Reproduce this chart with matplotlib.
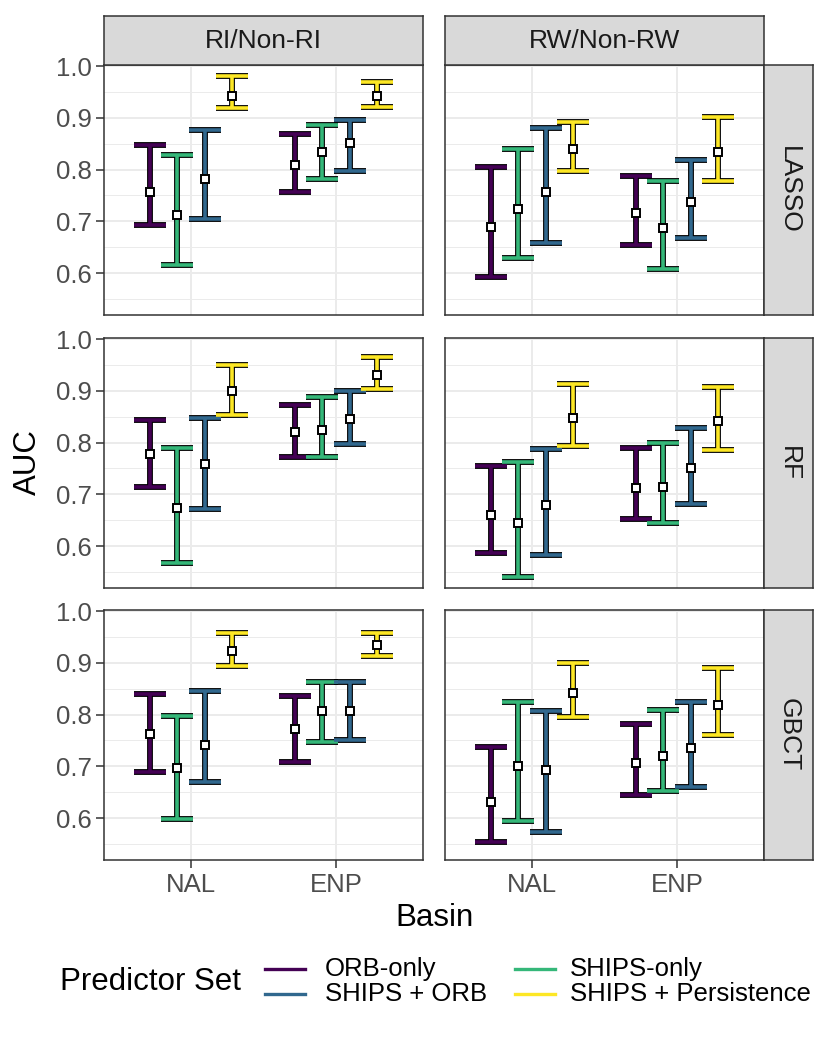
import numpy as np
import matplotlib
matplotlib.use('Agg')
import matplotlib.pyplot as plt
from matplotlib.lines import Line2D

plt.rcParams['font.family'] = ['Liberation Sans', 'DejaVu Sans']

basins = ['NAL', 'ENP']
predictors = ['ORB-only', 'SHIPS-only', 'SHIPS + ORB', 'SHIPS + Persistence']
pred_colors = ['#440154', '#35B779', '#31688E', '#FDE725']
legend_order = ['ORB-only', 'SHIPS + ORB', 'SHIPS-only', 'SHIPS + Persistence']
outcomes = ['RI/Non-RI', 'RW/Non-RW']
models = ['LASSO', 'RF', 'GBCT']

# each list: NAL (ORB, SHIPS, SHIPS+ORB, SHIPS+Pers), then ENP (same order)
lasso_ri_lo = [0.692, 0.615, 0.705, 0.918, 0.756, 0.781, 0.798, 0.920]
lasso_ri_mid = [0.756, 0.713, 0.782, 0.942, 0.808, 0.833, 0.851, 0.942]
lasso_ri_hi = [0.847, 0.828, 0.877, 0.980, 0.868, 0.887, 0.895, 0.969]

lasso_rw_lo = [0.592, 0.630, 0.658, 0.797, 0.655, 0.608, 0.667, 0.777]
lasso_rw_mid = [0.689, 0.724, 0.756, 0.839, 0.716, 0.687, 0.737, 0.834]
lasso_rw_hi = [0.805, 0.840, 0.880, 0.891, 0.788, 0.777, 0.818, 0.901]

rf_ri_lo = [0.715, 0.567, 0.672, 0.853, 0.772, 0.772, 0.797, 0.904]
rf_ri_mid = [0.778, 0.673, 0.759, 0.900, 0.820, 0.825, 0.846, 0.930]
rf_ri_hi = [0.844, 0.790, 0.847, 0.950, 0.873, 0.888, 0.899, 0.966]

rf_rw_lo = [0.586, 0.541, 0.583, 0.794, 0.652, 0.645, 0.682, 0.786]
rf_rw_mid = [0.660, 0.645, 0.680, 0.848, 0.712, 0.714, 0.750, 0.842]
rf_rw_hi = [0.754, 0.762, 0.787, 0.913, 0.790, 0.800, 0.829, 0.908]

gbct_ri_lo = [0.689, 0.598, 0.670, 0.894, 0.709, 0.747, 0.750, 0.913]
gbct_ri_mid = [0.762, 0.696, 0.742, 0.923, 0.772, 0.806, 0.806, 0.935]
gbct_ri_hi = [0.840, 0.797, 0.845, 0.957, 0.835, 0.862, 0.862, 0.958]

gbct_rw_lo = [0.553, 0.594, 0.574, 0.795, 0.644, 0.653, 0.660, 0.760]
gbct_rw_mid = [0.632, 0.701, 0.693, 0.842, 0.706, 0.719, 0.735, 0.819]
gbct_rw_hi = [0.737, 0.824, 0.806, 0.900, 0.782, 0.809, 0.824, 0.890]

panels = {
    ('LASSO', 'RI/Non-RI'): (lasso_ri_lo, lasso_ri_mid, lasso_ri_hi),
    ('LASSO', 'RW/Non-RW'): (lasso_rw_lo, lasso_rw_mid, lasso_rw_hi),
    ('RF', 'RI/Non-RI'): (rf_ri_lo, rf_ri_mid, rf_ri_hi),
    ('RF', 'RW/Non-RW'): (rf_rw_lo, rf_rw_mid, rf_rw_hi),
    ('GBCT', 'RI/Non-RI'): (gbct_ri_lo, gbct_ri_mid, gbct_ri_hi),
    ('GBCT', 'RW/Non-RW'): (gbct_rw_lo, gbct_rw_mid, gbct_rw_hi),
}

W, H = 830, 1038
fig = plt.figure(figsize=(W / 100, H / 100), dpi=100)

col_left = [104, 445]
pw = 319
row_top = [65, 338, 610]
ph = 250
strip = 49

def fbox(x, y, w, h):
    return [x / W, 1 - (y + h) / H, w / W, h / H]

dodge = np.array([-0.28125, -0.09375, 0.09375, 0.28125])
cap = 0.11
border = '#333333'

for r, model in enumerate(models):
    for c, outcome in enumerate(outcomes):
        lo, mid, hi = panels[(model, outcome)]
        ax = fig.add_axes(fbox(col_left[c], row_top[r], pw, ph))
        ax.set_xlim(0.4, 2.6)
        ax.set_ylim(0.519, 1.002)
        ax.set_yticks([0.6, 0.7, 0.8, 0.9, 1.0])
        ax.set_yticks([0.55, 0.65, 0.75, 0.85, 0.95], minor=True)
        ax.set_xticks([1, 2])
        ax.grid(True, which='major', color='#EBEBEB', lw=1.4)
        ax.grid(True, which='minor', axis='y', color='#EBEBEB', lw=0.7)
        ax.set_axisbelow(True)
        for s in ax.spines.values():
            s.set_color(border)
            s.set_linewidth(1.1)
        ax.tick_params(which='minor', length=0)
        ax.tick_params(which='major', length=5.5, width=1.1, color=border,
                       labelsize=18.5, labelcolor='#4D4D4D', pad=3.5)
        if c == 0:
            ax.set_yticklabels(['0.6', '0.7', '0.8', '0.9', '1.0'])
        else:
            ax.tick_params(axis='y', length=0, labelleft=False)
        if r == 2:
            ax.set_xticklabels(basins)
        else:
            ax.tick_params(axis='x', length=0, labelbottom=False)

        for b in range(2):
            for p in range(4):
                i = b * 4 + p
                x = b + 1 + dodge[p]
                for col, lw, z in (('black', 4.2, 2), (pred_colors[p], 2.6, 3)):
                    ax.plot([x, x], [lo[i], hi[i]], color=col, lw=lw, zorder=z,
                            solid_capstyle='butt')
                    ax.plot([x - cap, x + cap], [lo[i], lo[i]], color=col, lw=lw,
                            zorder=z, solid_capstyle='butt')
                    ax.plot([x - cap, x + cap], [hi[i], hi[i]], color=col, lw=lw,
                            zorder=z, solid_capstyle='butt')
                ax.plot(x, mid[i], marker='s', ms=6, mfc='white', mec='black',
                        mew=1.4, zorder=5)

        if r == 0:
            sax = fig.add_axes(fbox(col_left[c], row_top[r] - strip, pw, strip))
            sax.set_facecolor('#D9D9D9')
            sax.set_xticks([])
            sax.set_yticks([])
            for s in sax.spines.values():
                s.set_color(border)
                s.set_linewidth(1.1)
            sax.text(0.5, 0.5, outcome, ha='center', va='center', fontsize=19,
                     color='#1A1A1A', transform=sax.transAxes)
        if c == 1:
            sax = fig.add_axes(fbox(col_left[c] + pw, row_top[r], strip, ph))
            sax.set_facecolor('#D9D9D9')
            sax.set_xticks([])
            sax.set_yticks([])
            for s in sax.spines.values():
                s.set_color(border)
                s.set_linewidth(1.1)
            sax.text(0.5, 0.5, model, ha='center', va='center', fontsize=19,
                     color='#1A1A1A', rotation=-90, transform=sax.transAxes)

fig.text(28 / W, 1 - 462 / H, 'AUC', rotation=90, ha='center', va='center', fontsize=22.5)
fig.text(434 / W, 1 - 918 / H, 'Basin', ha='center', va='center', fontsize=22.5)

# legend
fig.text(60 / W, 1 - 982 / H, 'Predictor Set', ha='left', va='center', fontsize=22.5)
key_x = [(265, 305, 325), (515, 555, 570)]
key_y = [969, 994]
for k, name in enumerate(legend_order):
    cx = key_x[k // 2]
    ky = key_y[k % 2]
    color = pred_colors[predictors.index(name)]
    fig.add_artist(Line2D([cx[0] / W, cx[1] / W], [1 - ky / H, 1 - ky / H],
                          color=color, lw=2.4, transform=fig.transFigure))
    fig.text(cx[2] / W, 1 - ky / H, name, ha='left', va='center', fontsize=18.5)

fig.savefig('out.png', dpi=100)
